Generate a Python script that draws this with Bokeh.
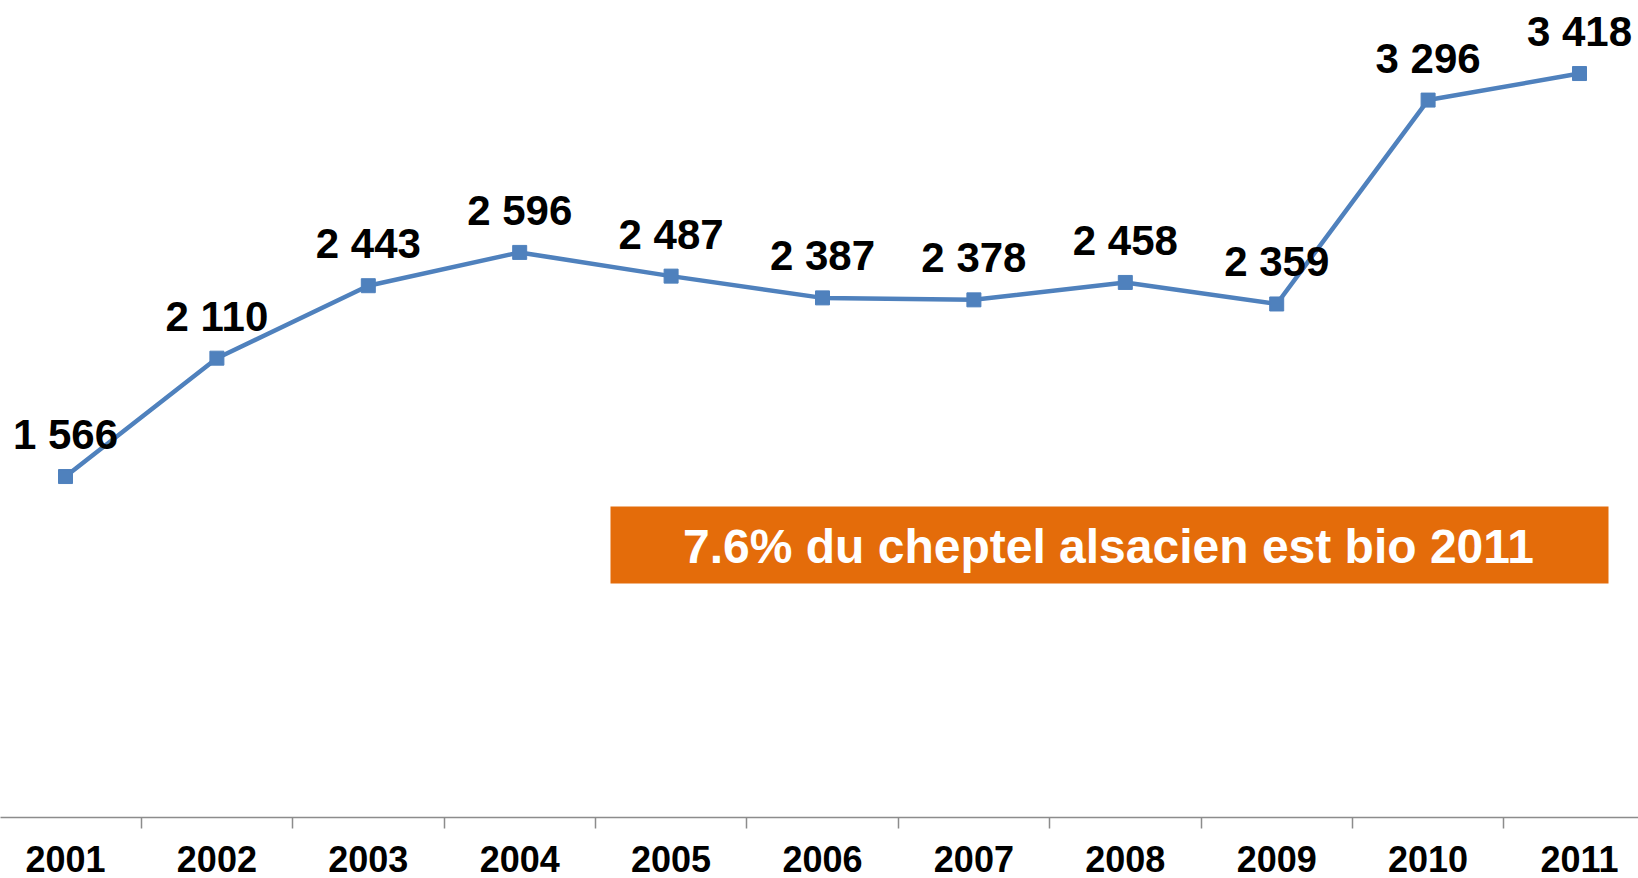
from bokeh.plotting import figure
from bokeh.models import Range1d, FixedTicker, BoxAnnotation, Label, ColumnDataSource
from bokeh.core.properties import value
from bokeh.embed import file_html
from bokeh.resources import INLINE

# ---- data ----
years = ["2001", "2002", "2003", "2004", "2005", "2006", "2007", "2008", "2009", "2010", "2011"]
counts = [1566, 2110, 2443, 2596, 2487, 2387, 2378, 2458, 2359, 3296, 3418]
note = "7.6% du cheptel alsacien est bio 2011"

idx = list(range(len(years)))
labels = [f"{v:,}".replace(",", " ") for v in counts]
src = ColumnDataSource(dict(x=idx, y=counts, lab=labels))

# ---- layout helpers (pixel -> data for the annotation box) ----
X0_PX, X_STEP = 65.0, 151.4          # pixel of first category, pixels per category
Y0_PX, Y_SCALE = 816.8, 0.2176       # pixel of value 0, pixels per unit
W, H = 1638, 878
FRAME_H = 817

def xd(px):
    return (px - X0_PX) / X_STEP

def yd(py):
    return (Y0_PX - py) / Y_SCALE

p = figure(width=W, height=H,
           x_range=Range1d(xd(0), xd(W)),
           y_range=Range1d(yd(FRAME_H), yd(0)),
           output_backend="svg", toolbar_location=None,
           min_border=0, min_border_bottom=H - FRAME_H,
           y_axis_location=None,
           background_fill_color="white", border_fill_color="white",
           outline_line_color=None)
p.xgrid.visible = False
p.ygrid.visible = False

ax = p.xaxis[0]
ax.ticker = FixedTicker(ticks=idx, minor_ticks=[i + 0.5 for i in idx[:-1]])
ax.major_label_overrides = {i: y for i, y in zip(idx, years)}
ax.major_tick_out = 0
ax.major_tick_in = 0
ax.minor_tick_out = 11
ax.minor_tick_in = 0
ax.minor_tick_line_color = "#8c8c8c"
ax.minor_tick_line_width = 1.5
ax.axis_line_color = "#8c8c8c"
ax.axis_line_width = 1.5
ax.major_label_text_font = "Liberation Sans"
ax.major_label_text_font_style = "bold"
ax.major_label_text_font_size = "36px"
ax.major_label_text_color = "black"
ax.major_label_standoff = 17

# orange note box
box = BoxAnnotation(left=xd(610), right=xd(1608), top=yd(506), bottom=yd(583),
                    fill_color="#E46C0A", fill_alpha=1.0, line_color=None, level="underlay")
p.add_layout(box)
p.add_layout(Label(x=xd(1108), y=yd(546), text=note, text_align="center",
                   text_baseline="alphabetic", text_color="white",
                   text_font="Liberation Sans", text_font_style="bold",
                   text_font_size="48px"))

# series
p.line("x", "y", source=src, line_color="#4F81BD", line_width=4.5)
p.scatter("x", "y", source=src, marker="square", size=14,
          fill_color="#4F81BD", line_color="#4F81BD")
p.text("x", "y", text="lab", source=src, text_align="center",
       text_baseline="alphabetic", y_offset=-42,
       text_font=value("Liberation Sans"), text_font_style="bold",
       text_font_size="42px", text_color="black")

open("out.html", "w").write(file_html(p, INLINE))
